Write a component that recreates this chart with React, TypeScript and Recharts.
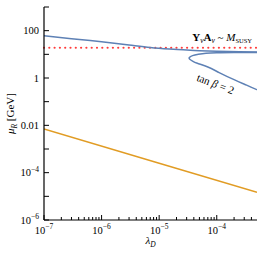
import { LineChart, Line, XAxis, YAxis, ReferenceLine, ReferenceDot } from "recharts";

const FONT = "'Liberation Serif', 'Times New Roman', serif";
const BLUE = "#5e81b5";
const ORANGE = "#e19c24";
const RED = "#ff3b3b";

// lambda_D axis ticks (decades plus minor 2..9)
const xTicks = [
  1e-7, 2e-7, 3e-7, 4e-7, 5e-7, 6e-7, 7e-7, 8e-7, 9e-7,
  1e-6, 2e-6, 3e-6, 4e-6, 5e-6, 6e-6, 7e-6, 8e-6, 9e-6,
  1e-5, 2e-5, 3e-5, 4e-5, 5e-5, 6e-5, 7e-5, 8e-5, 9e-5,
  1e-4, 2e-4, 3e-4, 4e-4,
];
const yTicks = [1e-6, 1e-5, 1e-4, 1e-3, 1e-2, 1e-1, 1, 10, 100, 1000];
// labelled y ticks: "-n" means 10^-n
const yLabelValues = [1e-6, 1e-4, 1e-2, 1, 100];
const yLabelTexts = ["-6", "-4", "0.01", "1", "100"];

// tan beta = 2, upper branch
const upperBranch = [
  { x: 1e-7, y: 61 },
  { x: 3e-7, y: 46 },
  { x: 1e-6, y: 34 },
  { x: 3e-6, y: 25 },
  { x: 7e-6, y: 19.5 },
  { x: 1.5e-5, y: 16.8 },
  { x: 2.6e-5, y: 15.5 },
  { x: 5e-5, y: 14.3 },
  { x: 1e-4, y: 13.5 },
  { x: 2.5e-4, y: 13 },
  { x: 5e-4, y: 12.6 },
];

// tan beta = 2, folded branch (comes back from the right edge, turns, goes down)
const foldBranch = [
  { x: 5e-4, y: 12.0 },
  { x: 2e-4, y: 11.9 },
  { x: 1e-4, y: 11.6 },
  { x: 6.5e-5, y: 11.0 },
  { x: 4.8e-5, y: 10.0 },
  { x: 3.8e-5, y: 8.8 },
  { x: 3.35e-5, y: 7.3 },
  { x: 3.4e-5, y: 6.2 },
  { x: 3.8e-5, y: 5.2 },
  { x: 4.6e-5, y: 4.2 },
  { x: 7e-5, y: 2.9 },
  { x: 1.1e-4, y: 1.7 },
  { x: 2e-4, y: 0.85 },
  { x: 3.3e-4, y: 0.5 },
  { x: 5e-4, y: 0.32 },
];

const orangeLine = [
  { x: 1e-7, y: 0.0071 },
  { x: 1e-5, y: 0.00025 },
  { x: 5e-4, y: 0.000015 },
];

const msusyLevel = 19;

const isDecade = (v: number) => {
  const l = Math.log10(v);
  return Math.abs(l - Math.round(l)) < 1e-6;
};

function BottomTick({ x, y, payload }: any) {
  const v = payload.value;
  const major = isDecade(v);
  const e = Math.round(Math.log10(v));
  return (
    <g>
      <line x1={x} x2={x} y1={y} y2={y - (major ? 5 : 3)} stroke="#000" strokeWidth={1} />
      {major && (
        <text x={x} y={y + 13.5} textAnchor="middle" fontSize={10.5} fontFamily={FONT} fill="#000">
          10
          <tspan dy={-4.5} fontSize={7.5}>
            {"\u2212" + Math.abs(e)}
          </tspan>
        </text>
      )}
    </g>
  );
}

function TopTick({ x, y, payload }: any) {
  const major = isDecade(payload.value);
  return <line x1={x} x2={x} y1={y} y2={y + (major ? 5 : 3)} stroke="#000" strokeWidth={1} />;
}

function LeftTick({ x, y, payload }: any) {
  const i = yLabelValues.findIndex((v) => Math.abs(Math.log10(v) - Math.log10(payload.value)) < 1e-6);
  const lab = i >= 0 ? yLabelTexts[i] : null;
  return (
    <g>
      <line x1={x} x2={x + 5} y1={y} y2={y} stroke="#000" strokeWidth={1} />
      {lab && (
        <text x={x - 5} y={y + 3.5} textAnchor="end" fontSize={10.5} fontFamily={FONT} fill="#000">
          {lab.startsWith("-") ? (
            <>
              10
              <tspan dy={-4.5} fontSize={7.5}>
                {"\u2212" + lab.slice(1)}
              </tspan>
            </>
          ) : (
            lab
          )}
        </text>
      )}
    </g>
  );
}

function RightTick({ x, y }: any) {
  return <line x1={x} x2={x - 5} y1={y} y2={y} stroke="#000" strokeWidth={1} />;
}

function XLabel({ viewBox }: any) {
  const { x, y, width } = viewBox;
  return (
    <text x={x + width / 2} y={y + 24} textAnchor="middle" fontSize={11} fontFamily={FONT} fill="#000">
      <tspan fontStyle="italic">λ</tspan>
      <tspan fontSize={7.5} dy={2.5} fontStyle="italic">D</tspan>
    </text>
  );
}

function YLabel({ viewBox }: any) {
  const { x, y, height } = viewBox;
  const cx = x + 14;
  const cy = y + height / 2;
  return (
    <text
      x={cx}
      y={cy}
      transform={`rotate(-90 ${cx} ${cy})`}
      textAnchor="middle"
      fontSize={11}
      fontFamily={FONT}
      fill="#000"
    >
      <tspan fontStyle="italic">μ</tspan>
      <tspan fontSize={7.5} dy={2.5} fontStyle="italic">R</tspan>
      <tspan dy={-2.5}>{"\u00a0[GeV]"}</tspan>
    </text>
  );
}

function MsusyLabel({ viewBox }: any) {
  const { x, y } = viewBox;
  return (
    <text x={x} y={y} textAnchor="end" fontSize={11} fontFamily={FONT} fill="#000">
      <tspan fontWeight="bold">Y</tspan>
      <tspan fontSize={7.5} dy={2.5} fontStyle="italic">ν</tspan>
      <tspan dy={-2.5} fontWeight="bold">A</tspan>
      <tspan fontSize={7.5} dy={2.5} fontStyle="italic">ν</tspan>
      <tspan dy={-2.5}>{"\u00a0~\u00a0"}</tspan>
      <tspan fontStyle="italic">M</tspan>
      <tspan fontSize={6.5} dy={2.5}>SUSY</tspan>
    </text>
  );
}

function TanBetaLabel({ viewBox }: any) {
  const { x, y } = viewBox;
  return (
    <text
      x={x}
      y={y}
      transform={`rotate(21 ${x} ${y})`}
      textAnchor="middle"
      fontSize={11}
      fontFamily={FONT}
      fill="#000"
    >
      {"tan\u00a0"}
      <tspan fontStyle="italic">β</tspan>
      {"\u00a0=\u00a02"}
    </text>
  );
}

export default function App() {
  return (
    <div style={{ position: "absolute", left: 0, top: 0, background: "#fff" }}>
      <LineChart width={265} height={266} margin={{ top: 7, right: 8, left: 0, bottom: 0 }}>
        <XAxis
          dataKey="x"
          type="number"
          scale="log"
          domain={[1e-7, 5e-4]}
          allowDataOverflow
          ticks={xTicks}
          interval={0}
          height={46}
          tickSize={0}
          tickMargin={0}
          tickLine={false}
          tick={<BottomTick />}
          axisLine={{ stroke: "#000", strokeWidth: 1.2 }}
          label={<XLabel />}
        />
        <XAxis
          xAxisId="top"
          orientation="top"
          type="number"
          scale="log"
          domain={[1e-7, 5e-4]}
          allowDataOverflow
          ticks={xTicks}
          interval={0}
          height={0}
          tickSize={0}
          tickMargin={0}
          tickLine={false}
          tick={<TopTick />}
          axisLine={{ stroke: "#000", strokeWidth: 1.2 }}
        />
        <YAxis
          type="number"
          scale="log"
          domain={[1e-6, 1000]}
          allowDataOverflow
          ticks={yTicks}
          interval={0}
          width={44}
          tickSize={0}
          tickMargin={0}
          tickLine={false}
          tick={<LeftTick />}
          axisLine={{ stroke: "#000", strokeWidth: 1.2 }}
          label={<YLabel />}
        />
        <YAxis
          yAxisId="right"
          orientation="right"
          type="number"
          scale="log"
          domain={[1e-6, 1000]}
          allowDataOverflow
          ticks={yTicks}
          interval={0}
          width={0}
          tickSize={0}
          tickMargin={0}
          tickLine={false}
          tick={<RightTick />}
          axisLine={{ stroke: "#000", strokeWidth: 1.2 }}
        />
        <ReferenceLine
          y={msusyLevel}
          stroke={RED}
          strokeWidth={2.2}
          strokeDasharray="0 5.3"
          strokeLinecap="round"
        />
        <Line
          data={orangeLine}
          dataKey="y"
          stroke={ORANGE}
          strokeWidth={1.5}
          dot={false}
          activeDot={false}
          isAnimationActive={false}
          type="linear"
        />
        <Line
          data={upperBranch}
          dataKey="y"
          stroke={BLUE}
          strokeWidth={1.5}
          dot={false}
          activeDot={false}
          isAnimationActive={false}
          type="natural"
        />
        <Line
          data={foldBranch}
          dataKey="y"
          stroke={BLUE}
          strokeWidth={1.5}
          dot={false}
          activeDot={false}
          isAnimationActive={false}
          type="natural"
        />
        <ReferenceDot x={4.1e-4} y={38} r={0} fill="none" stroke="none" label={<MsusyLabel />} />
        <ReferenceDot x={9e-5} y={0.4} r={0} fill="none" stroke="none" label={<TanBetaLabel />} />
      </LineChart>
    </div>
  );
}
